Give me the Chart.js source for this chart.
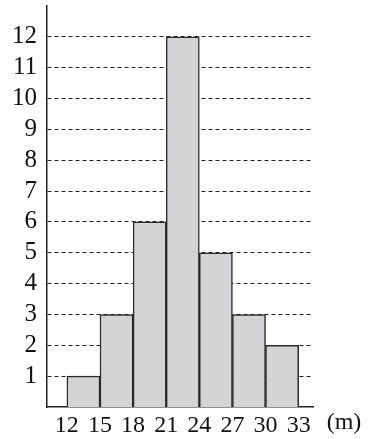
<!DOCTYPE html>
<html>
<head>
<meta charset="utf-8">
<script src="https://cdn.jsdelivr.net/npm/chart.js@4/dist/chart.umd.min.js"></script>
<style>
  html, body { margin: 0; padding: 0; background: #fff; }
  #wrap { width: 371px; height: 439px; }
</style>
</head>
<body>
<div id="wrap"><canvas id="histChart" width="371" height="439"></canvas></div>
<script>
// bin edges (m) and counts
var binEdges = [12, 15, 18, 21, 24, 27, 30, 33];
var counts = [1, 3, 6, 12, 5, 3, 2];
var yTicks = [1, 2, 3, 4, 5, 6, 7, 8, 9, 10, 11, 12];
var unitLabel = '(m)';

var FONT = "'Liberation Serif', 'Times New Roman', serif";

// bars placed at bin centres
var barData = [];
for (var i = 0; i < counts.length; i++) {
  barData.push({ x: (binEdges[i] + binEdges[i + 1]) / 2, y: counts[i] });
}

// draws the unit label to the right of the x axis
var unitPlugin = {
  id: 'unitLabel',
  afterDraw: function (chart) {
    var ctx = chart.ctx;
    var area = chart.chartArea;
    ctx.save();
    ctx.font = '24px ' + FONT;
    ctx.fillStyle = '#111';
    ctx.textAlign = 'center';
    ctx.textBaseline = 'middle';
    ctx.fillText(unitLabel, area.right + 31, area.bottom + 16);
    ctx.restore();
  }
};

function noPad(scale) {
  scale.paddingTop = 0;
  scale.paddingBottom = 0;
  scale.paddingLeft = 0;
  scale.paddingRight = 0;
}

new Chart(document.getElementById('histChart'), {
  type: 'bar',
  data: {
    datasets: [
      {
        data: barData,
        backgroundColor: '#d4d4d6',
        borderColor: '#2a2a2a',
        borderWidth: 1.5,
        barPercentage: 1.0,
        categoryPercentage: 1.0
      }
    ]
  },
  options: {
    responsive: false,
    animation: false,
    layout: {
      padding: { top: 6, right: 58, left: 0, bottom: 0 }
    },
    plugins: {
      legend: { display: false },
      tooltip: { enabled: false }
    },
    scales: {
      x: {
        type: 'linear',
        offset: false,
        min: 10.2,
        max: 34.3,
        afterBuildTicks: function (scale) {
          scale.ticks = binEdges.map(function (v) { return { value: v }; });
        },
        afterFit: function (scale) { scale.height = 32; noPad(scale); },
        grid: { display: false, drawTicks: false, offset: false },
        border: { display: true, color: '#222', width: 1.5 },
        ticks: {
          padding: 4,
          color: '#111',
          font: { family: FONT, size: 24 },
          maxRotation: 0,
          autoSkip: false
        }
      },
      y: {
        min: 0,
        max: 13,
        afterBuildTicks: function (scale) {
          scale.ticks = yTicks.map(function (v) { return { value: v }; });
        },
        afterFit: function (scale) { scale.width = 47; noPad(scale); },
        grid: { display: true, drawTicks: false, color: '#222', lineWidth: 1 },
        border: { display: true, color: '#222', width: 1.5, dash: [4, 3] },
        ticks: {
          padding: 10,
          color: '#111',
          font: { family: FONT, size: 25 }
        }
      }
    }
  },
  plugins: [unitPlugin]
});
</script>
</body>
</html>
